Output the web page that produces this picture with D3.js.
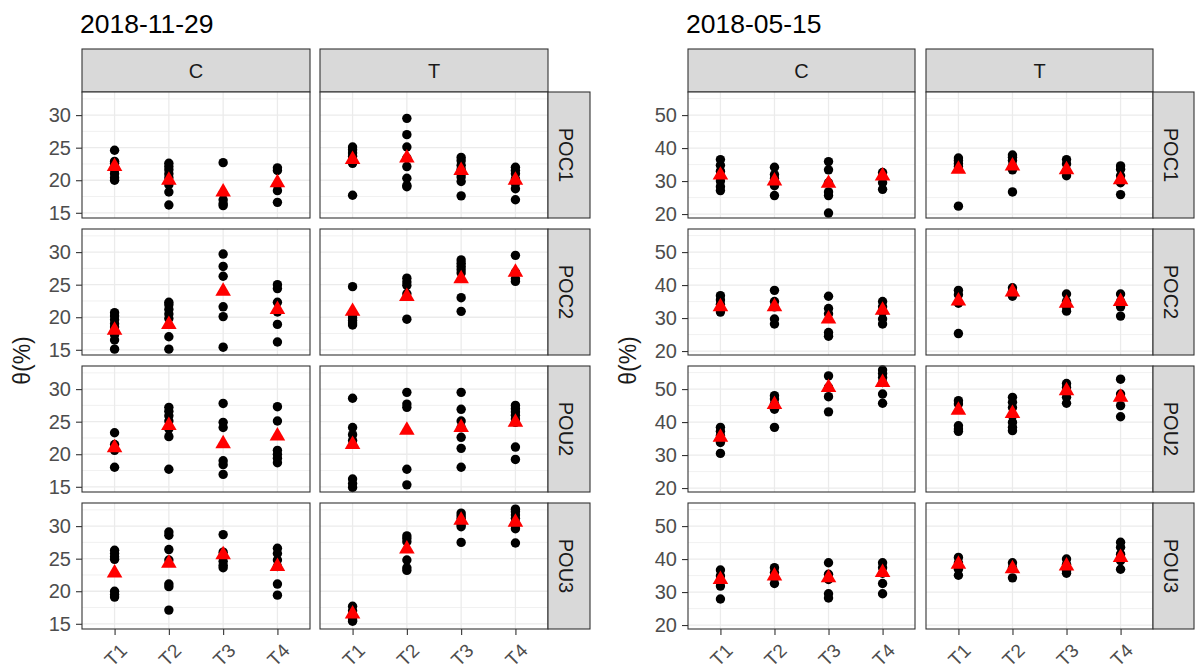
<!DOCTYPE html>
<html><head><meta charset="utf-8">
<script src="https://cdn.jsdelivr.net/npm/d3@7"></script>
<style>body{margin:0;background:#fff} text{font-family:"Liberation Sans",Arial,sans-serif}</style>
</head><body><svg id="c" width="1196" height="671"></svg>
<script>
const categories = ["T1","T2","T3","T4"];
const treatments = ["C","T"];
const sites = ["POC1","POC2","POU2","POU3"];
const titles = ["2018-11-29","2018-05-15"];
const yLabel = "θ(%)";
const novTicks = [15,20,25,30];
const novMinor = [17.5,22.5,27.5,32.5];
const mayTicks = [20,30,40,50];
const mayMinor = [25,35,45,55];

// ---- 2018-11-29 : points per T1..T4 and mean (triangle) ----
const nov_POC1_C = [[24.6,22.9,22.6,22.1,21.6,21.0,20.4,20.0],[22.6,22.1,21.6,21.0,20.4,19.3,18.2,16.2],[22.7,18.0,17.0,16.4,16.1],[21.9,21.5,19.3,18.4,16.6]];
const nov_POC1_C_mean = [22.1,20.0,18.2,19.6];
const nov_POC1_T = [[25.1,24.7,24.2,23.7,23.1,22.6,17.7],[29.5,27.0,25.1,23.4,22.1,20.3,19.2,19.0],[23.5,23.0,22.3,21.7,21.0,20.5,19.8,17.6],[22.0,21.5,21.0,20.2,19.5,18.7,17.0]];
const nov_POC1_T_mean = [23.2,23.4,21.5,20.0];
const nov_POC2_C = [[20.7,20.2,19.6,19.0,18.5,17.9,17.3,16.5,15.1],[22.3,21.9,21.2,20.5,19.8,17.0,15.1],[29.7,27.8,26.3,21.6,20.1,15.4],[25.0,24.4,22.3,20.8,18.9,16.2]];
const nov_POC2_C_mean = [18.0,18.9,24.0,21.2];
const nov_POC2_T = [[24.7,20.4,19.9,19.5,19.1,18.8],[26.0,25.4,24.9,23.6,19.7],[28.8,28.3,27.8,27.3,26.8,23.0,20.9],[29.5,26.9,25.9,25.5]];
const nov_POC2_T_mean = [20.9,23.2,25.9,26.9];
const nov_POU2_C = [[23.3,21.5,20.6,18.0],[27.2,26.6,25.9,25.1,23.9,22.7,17.7],[27.8,24.9,24.1,19.0,18.4,16.9],[27.3,25.1,20.6,20.0,19.4,18.7]];
const nov_POU2_C_mean = [21.0,24.4,21.6,22.8];
const nov_POU2_T = [[28.6,24.1,23.0,22.1,16.2,15.5,14.9],[29.5,27.7,27.2,17.7,15.3],[29.5,26.9,25.1,24.1,22.6,20.9,18.0],[27.5,27.0,26.5,26.0,25.4,24.9,21.1,19.2]];
const nov_POU2_T_mean = [21.5,23.7,24.1,24.9];
const nov_POU3_C = [[26.3,25.8,25.3,24.9,20.0,19.5,19.1],[29.1,28.6,26.4,24.8,21.1,20.7,17.1],[28.7,26.0,25.3,24.6,24.0,23.6],[26.6,25.8,24.8,23.8,21.1,19.4]];
const nov_POU3_C_mean = [22.8,24.3,25.6,23.8];
const nov_POU3_T = [[17.7,17.0,16.2,15.6,15.4],[28.5,28.1,27.6,24.8,23.6,23.2],[32.0,31.6,31.2,30.7,30.2,29.9,27.5],[32.6,32.2,31.7,31.2,30.6,30.1,29.6,27.4]];
const nov_POU3_T_mean = [16.5,26.5,30.9,30.6];

// ---- 2018-05-15 ----
const may_POC1_C = [[36.5,34.8,33.0,31.5,30.0,28.3,27.1],[34.2,32.0,30.8,29.6,28.6,25.6],[35.9,33.4,29.5,26.7,25.6,20.3],[32.6,31.1,29.5,27.5]];
const may_POC1_C_mean = [31.8,30.0,29.3,31.5];
const may_POC1_T = [[37.0,36.2,35.3,34.4,22.4],[37.9,37.2,36.2,34.6,33.4,26.7],[36.5,35.2,33.1,31.6],[34.6,33.6,31.6,29.5,25.9]];
const may_POC1_T_mean = [33.6,34.6,33.4,30.4];
const may_POC2_C = [[36.8,35.5,34.2,33.0,31.8],[38.4,35.0,33.4,29.7,28.2],[36.6,32.9,31.3,25.6,24.5],[35.0,33.4,31.8,29.7,28.2]];
const may_POC2_C_mean = [33.4,33.4,29.7,32.4];
const may_POC2_T = [[38.4,37.1,34.5,25.3],[39.2,38.1,36.6],[37.3,35.0,33.4,32.1],[37.3,35.0,33.4,30.6]];
const may_POC2_T_mean = [35.2,37.9,34.5,35.0];
const may_POU2_C = [[38.4,37.2,35.9,33.8,30.5],[48.0,47.0,45.5,43.9,38.4],[54.0,50.5,47.7,43.1],[55.8,54.7,53.5,52.0,48.5,45.7]];
const may_POU2_C_mean = [35.4,45.3,50.5,52.0];
const may_POU2_T = [[46.5,45.5,38.9,37.9,37.2],[47.5,46.0,44.4,41.9,39.9,38.4,37.4],[51.7,50.5,49.0,47.5,45.7],[53.0,48.5,45.0,41.6]];
const may_POU2_T_mean = [43.6,42.6,49.5,47.5];
const may_POU3_C = [[36.7,34.9,31.8,27.9],[37.4,35.9,34.3,32.6],[38.9,35.4,33.8,29.5,28.2],[38.9,37.4,35.7,32.6,29.5]];
const may_POU3_C_mean = [33.8,34.9,34.3,35.9];
const may_POU3_T = [[40.5,38.9,36.9,35.1],[38.9,37.4,34.3],[40.0,38.4,36.4,35.7],[45.1,43.6,41.5,39.5,36.9]];
const may_POU3_T_mean = [38.4,37.1,37.9,40.5];

const novTable = {
  POC1:{C:[nov_POC1_C,nov_POC1_C_mean],T:[nov_POC1_T,nov_POC1_T_mean]},
  POC2:{C:[nov_POC2_C,nov_POC2_C_mean],T:[nov_POC2_T,nov_POC2_T_mean]},
  POU2:{C:[nov_POU2_C,nov_POU2_C_mean],T:[nov_POU2_T,nov_POU2_T_mean]},
  POU3:{C:[nov_POU3_C,nov_POU3_C_mean],T:[nov_POU3_T,nov_POU3_T_mean]}};
const mayTable = {
  POC1:{C:[may_POC1_C,may_POC1_C_mean],T:[may_POC1_T,may_POC1_T_mean]},
  POC2:{C:[may_POC2_C,may_POC2_C_mean],T:[may_POC2_T,may_POC2_T_mean]},
  POU2:{C:[may_POU2_C,may_POU2_C_mean],T:[may_POU2_T,may_POU2_T_mean]},
  POU3:{C:[may_POU3_C,may_POU3_C_mean],T:[may_POU3_T,may_POU3_T_mean]}};

const svg = d3.select("#c");
const rowTop = 92, rowH = 126, rowGap = 11, stripTop = 49;
const BORDER = "#333333", GRID = "#EBEBEB", STRIP = "#D9D9D9", AXIS_TXT = "#4D4D4D";
const FS = 20;

function drawChart(cfg){
  const g = svg.append("g");
  g.append("text").attr("x", cfg.x0 - 2).attr("y", 33).attr("font-size", 26.5).attr("fill", "#000").text(cfg.title);
  g.append("text").attr("transform", `translate(${cfg.ylabX},${rowTop + (4*rowH+3*rowGap)/2}) rotate(-90)`)
    .attr("text-anchor","middle").attr("font-size",23).attr("fill","#1A1A1A").text(yLabel);
  const y = d3.scaleLinear().domain(cfg.yDomain).range([rowH, 0]);
  treatments.forEach((tr, ci) => {
    const px = cfg.x0 + ci*(cfg.pw + cfg.gap);
    const x = d3.scalePoint().domain(categories).range([0, cfg.pw]).padding(0.6);
    g.append("rect").attr("x", px).attr("y", stripTop).attr("width", cfg.pw).attr("height", rowTop - stripTop)
      .attr("fill", STRIP).attr("stroke", BORDER).attr("stroke-width", 1.1);
    g.append("text").attr("x", px + cfg.pw/2).attr("y", stripTop + (rowTop-stripTop)/2 + 7)
      .attr("text-anchor","middle").attr("font-size",FS).attr("fill","#1A1A1A").text(tr);
    sites.forEach((site, ri) => {
      const py = rowTop + ri*(rowH + rowGap);
      const p = g.append("g").attr("transform", `translate(${px},${py})`);
      p.append("rect").attr("width", cfg.pw).attr("height", rowH).attr("fill", "#fff");
      p.selectAll(".mn").data(cfg.minor.filter(v => v > cfg.yDomain[0] && v < cfg.yDomain[1])).join("line")
        .attr("x1",0).attr("x2",cfg.pw).attr("y1",d=>y(d)).attr("y2",d=>y(d)).attr("stroke",GRID).attr("stroke-width",0.7);
      p.selectAll(".mj").data(cfg.ticks).join("line")
        .attr("x1",0).attr("x2",cfg.pw).attr("y1",d=>y(d)).attr("y2",d=>y(d)).attr("stroke",GRID).attr("stroke-width",1.3);
      p.selectAll(".vx").data(categories).join("line")
        .attr("x1",d=>x(d)).attr("x2",d=>x(d)).attr("y1",0).attr("y2",rowH).attr("stroke",GRID).attr("stroke-width",1.3);
      const [pts, means] = cfg.table[site][tr];
      const flat = [];
      pts.forEach((arr, k) => arr.forEach(v => flat.push({c: categories[k], v})));
      p.selectAll(".pt").data(flat).join("circle")
        .attr("cx", d => x(d.c)).attr("cy", d => y(d.v)).attr("r", 4.7).attr("fill", "#000");
      p.selectAll(".mt").data(means.map((v,k)=>({c:categories[k], v}))).join("path")
        .attr("d", d3.symbol(d3.symbolTriangle, 105))
        .attr("transform", d => `translate(${x(d.c)},${y(d.v)})`).attr("fill", "red");
      p.append("rect").attr("width", cfg.pw).attr("height", rowH).attr("fill","none").attr("stroke",BORDER).attr("stroke-width",1.1);
      if (ci === 0) {
        const ax = g.append("g").attr("transform", `translate(${px},${py})`)
          .call(d3.axisLeft(y).tickValues(cfg.ticks).tickSize(6).tickPadding(5));
        ax.select(".domain").remove();
        ax.selectAll(".tick line").attr("stroke", BORDER).attr("stroke-width", 1.1);
        ax.selectAll(".tick text").attr("font-size", FS).attr("fill", AXIS_TXT).attr("font-family", '"Liberation Sans",Arial,sans-serif');
      }
      if (ci === 1) {
        const sx = px + cfg.pw;
        g.append("rect").attr("x", sx).attr("y", py).attr("width", cfg.sw).attr("height", rowH)
          .attr("fill", STRIP).attr("stroke", BORDER).attr("stroke-width", 1.1);
        g.append("text").attr("transform", `translate(${sx + cfg.sw/2 - 10},${py + rowH/2}) rotate(90)`)
          .attr("text-anchor","middle").attr("font-size",FS).attr("fill","#1A1A1A").text(site);
      }
      if (ri === sites.length - 1) {
        const by = py + rowH;
        const bx = g.append("g").attr("transform", `translate(${px},${by})`)
          .call(d3.axisBottom(x).tickSize(6).tickFormat(() => ""));
        bx.select(".domain").remove();
        bx.selectAll(".tick line").attr("stroke", BORDER).attr("stroke-width", 1.1);
        g.selectAll(null).data(categories).enter().append("text")
          .attr("transform", d => `translate(${px + x(d) + 1},${by + 26}) rotate(-45)`)
          .attr("text-anchor","middle").attr("dy","0.35em").attr("font-size",19).attr("fill",AXIS_TXT).text(d => d);
      }
    });
  });
}

drawChart({title: titles[0], x0: 82, pw: 228, gap: 10, sw: 42, ylabX: 30,
  yDomain: [14.2, 33.55], ticks: novTicks, minor: novMinor, table: novTable});
drawChart({title: titles[1], x0: 688, pw: 227, gap: 11, sw: 41, ylabX: 636,
  yDomain: [18.8, 57.0], ticks: mayTicks, minor: mayMinor, table: mayTable});
</script></body></html>
